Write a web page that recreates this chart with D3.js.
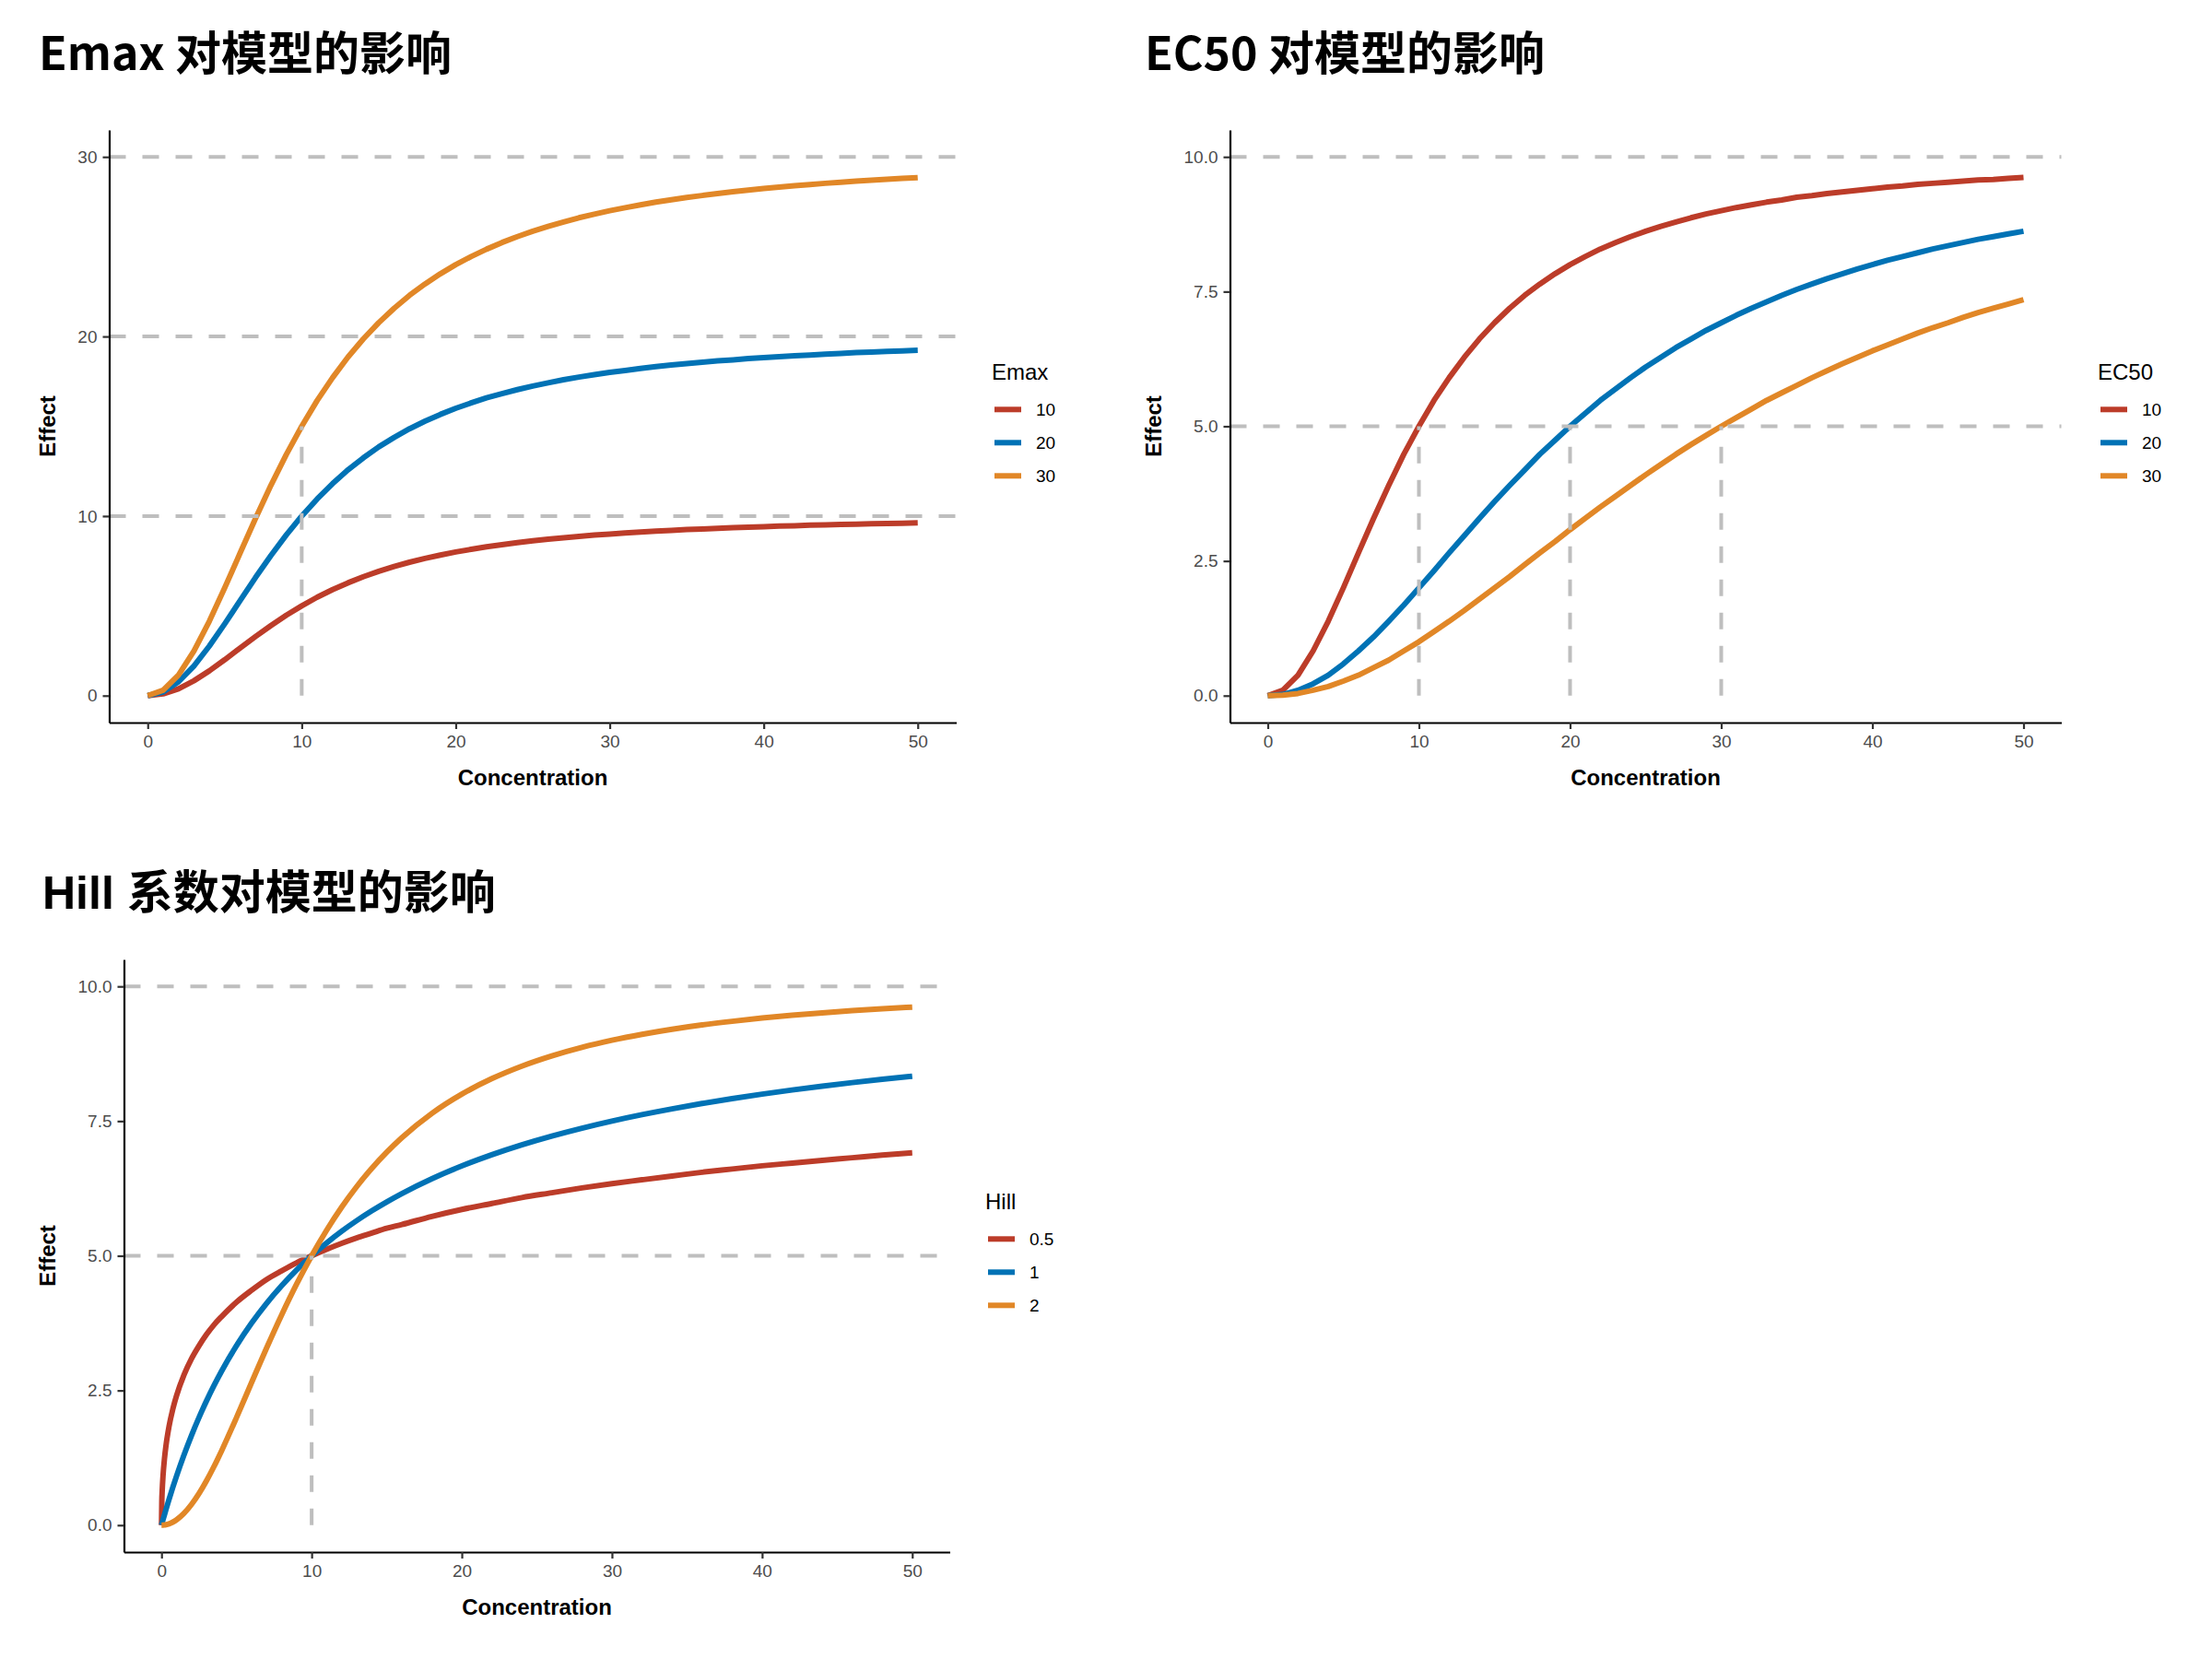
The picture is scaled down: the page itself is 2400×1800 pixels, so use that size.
<!DOCTYPE html>
<html>
<head>
<meta charset="utf-8">
<script src="https://cdn.jsdelivr.net/npm/d3@7"></script>
<style>
  html, body { margin: 0; padding: 0; background: #fff; }
  svg { display: block; }
</style>
</head>
<body>
<svg id="chart" width="2400" height="1800"></svg>
<script>
// ---------------- DATA ----------------
const conc = [0,1,2,3,4,5,6,7,8,9,10,11,12,13,14,15,16,17,18,19,20,21,22,23,24,25,26,27,28,29,30,31,32,33,34,35,36,37,38,39,40,41,42,43,44,45,46,47,48,49,50];

// Panel 1: Emax = 10 / 20 / 30
const emaxLevels = ["10", "20", "30"];
const emax10 = [0,0.10,0.38,0.83,1.38,2.00,2.65,3.29,3.90,4.48,5.00,5.48,5.90,6.28,6.62,6.92,7.19,7.43,7.64,7.83,8.00,8.15,8.29,8.41,8.52,8.62,8.71,8.79,8.87,8.94,9.00,9.06,9.11,9.16,9.20,9.25,9.28,9.32,9.35,9.38,9.41,9.44,9.46,9.49,9.51,9.53,9.55,9.57,9.58,9.60,9.62];
const emax20 = [0,0.20,0.77,1.65,2.76,4.00,5.29,6.58,7.80,8.95,10.00,10.95,11.80,12.57,13.24,13.85,14.38,14.86,15.28,15.66,16.00,16.30,16.58,16.82,17.04,17.24,17.42,17.59,17.74,17.87,18.00,18.11,18.22,18.32,18.41,18.49,18.57,18.64,18.70,18.77,18.82,18.88,18.93,18.97,19.02,19.06,19.10,19.13,19.17,19.20,19.23];
const emax30 = [0,0.30,1.15,2.48,4.14,6.00,7.94,9.87,11.71,13.43,15.00,16.43,17.70,18.85,19.86,20.77,21.57,22.29,22.92,23.49,24.00,24.45,24.86,25.23,25.56,25.86,26.13,26.38,26.61,26.81,27.00,27.17,27.33,27.48,27.61,27.74,27.85,27.96,28.06,28.15,28.24,28.32,28.39,28.46,28.53,28.59,28.65,28.70,28.75,28.80,28.85];

// Panel 2: EC50 = 10 / 20 / 30
const ec50Levels = ["10", "20", "30"];
const ec50_10 = [0,0.10,0.38,0.83,1.38,2.00,2.65,3.29,3.90,4.48,5.00,5.48,5.90,6.28,6.62,6.92,7.19,7.43,7.64,7.83,8.00,8.15,8.29,8.41,8.52,8.62,8.71,8.79,8.87,8.94,9.00,9.06,9.11,9.16,9.20,9.25,9.28,9.32,9.35,9.38,9.41,9.44,9.46,9.49,9.51,9.53,9.55,9.57,9.58,9.60,9.62];
const ec50_20 = [0,0.02,0.10,0.22,0.38,0.59,0.83,1.09,1.38,1.68,2.00,2.32,2.65,2.97,3.29,3.60,3.90,4.19,4.48,4.74,5.00,5.24,5.48,5.69,5.90,6.10,6.28,6.46,6.62,6.78,6.92,7.06,7.19,7.31,7.43,7.54,7.64,7.74,7.83,7.92,8.00,8.08,8.15,8.22,8.29,8.35,8.41,8.47,8.52,8.57,8.62];
const ec50_30 = [0,0.01,0.04,0.10,0.17,0.27,0.38,0.52,0.66,0.83,1.00,1.19,1.38,1.58,1.79,2.00,2.21,2.43,2.65,2.86,3.08,3.29,3.50,3.70,3.90,4.10,4.29,4.48,4.66,4.83,5.00,5.16,5.32,5.48,5.62,5.76,5.90,6.03,6.16,6.28,6.40,6.51,6.62,6.73,6.83,6.92,7.02,7.11,7.19,7.27,7.35];

// Panel 3: Hill = 0.5 / 1 / 2
const hillLevels = ["0.5", "1", "2"];
const hillConc = [0,0.02,0.05,0.1,0.2,0.3,0.5,0.75,1,1.5,2,2.5,3,3.5,4,5,6,7,8,9,10,11,12,13,14,15,16,18,20,22,24,26,28,30,32,34,36,38,40,42,44,46,48,50];
const hill05 = [0,0.43,0.66,0.91,1.24,1.48,1.83,2.15,2.40,2.79,3.09,3.33,3.54,3.72,3.87,4.14,4.36,4.56,4.72,4.87,5.00,5.12,5.23,5.33,5.42,5.51,5.58,5.73,5.86,5.97,6.08,6.17,6.26,6.34,6.41,6.48,6.55,6.61,6.67,6.72,6.77,6.82,6.87,6.91];
const hill1 = [0,0.020,0.050,0.099,0.196,0.291,0.476,0.698,0.909,1.304,1.667,2.000,2.308,2.593,2.857,3.333,3.750,4.118,4.444,4.737,5.000,5.238,5.455,5.652,5.833,6.000,6.154,6.429,6.667,6.875,7.059,7.222,7.368,7.500,7.619,7.727,7.826,7.917,8.000,8.077,8.148,8.214,8.276,8.333];
const hill2 = [0,0.000,0.000,0.001,0.004,0.009,0.025,0.056,0.099,0.220,0.385,0.588,0.826,1.091,1.379,2.000,2.647,3.289,3.902,4.475,5.000,5.475,5.902,6.283,6.622,6.923,7.191,7.642,8.000,8.288,8.521,8.711,8.869,9.000,9.110,9.204,9.284,9.352,9.412,9.464,9.509,9.549,9.584,9.615];

// Tick values / reference lines
const xTicks = [0, 10, 20, 30, 40, 50];
const yTicksEmax = [0, 10, 20, 30];
const yTicksUnit = [0, 2.5, 5, 7.5, 10];
const hlinesEmax = [10, 20, 30];
const hlinesUnit = [5, 10];
const vsegEmax = [[10, 15]];
const vsegEC50 = [[10, 5], [20, 5], [30, 5]];
const vsegHill = [[10, 5]];

const palette = ["#BC3C29", "#0072B5", "#E18727"];

// ---------------- DRAW ----------------
const svg = d3.select("#chart");
svg.append("rect").attr("width", 2400).attr("height", 1800).attr("fill", "#fff");

function zipSeries(xs, ys) { return xs.map((x, i) => [x, ys[i]]); }

function drawPanel(cfg) {
  const g = svg.append("g").attr("transform", `translate(${cfg.ox},${cfg.oy})`);
  const left = cfg.left, right = cfg.right, top = 141, bottom = 784;

  const x = d3.scaleLinear().domain([-2.5, 52.5]).range([left, right]);
  const y = d3.scaleLinear().domain(cfg.yDomain).range([bottom, top]);

  // Title
  g.append("text")
    .attr("x", cfg.titleX).attr("y", cfg.titleY)
    .attr("font-family", cfg.titleFont)
    .attr("font-weight", 700)
    .attr("font-size", 50)
    .attr("fill", "#000")
    .text(cfg.title);

  // Curves
  const line = d3.line().x(d => x(d[0])).y(d => y(d[1])).curve(cfg.curve);
  cfg.series.forEach((s, i) => {
    g.append("path")
      .datum(zipSeries(cfg.xs, s))
      .attr("d", line)
      .attr("fill", "none")
      .attr("stroke", palette[i])
      .attr("stroke-width", 6)
      .attr("stroke-linejoin", "round")
      .attr("stroke-linecap", "butt");
  });

  // Reference lines (drawn on top of curves)
  cfg.hlines.forEach(v => {
    g.append("line")
      .attr("x1", left).attr("x2", right)
      .attr("y1", y(v)).attr("y2", y(v))
      .attr("stroke", "#BEBEBE").attr("stroke-width", 4)
      .attr("stroke-dasharray", "18,18");
  });
  cfg.vsegs.forEach(([xv, yv]) => {
    g.append("line")
      .attr("x1", x(xv)).attr("x2", x(xv))
      .attr("y1", y(0)).attr("y2", y(yv))
      .attr("stroke", "#BEBEBE").attr("stroke-width", 4)
      .attr("stroke-dasharray", "18,18");
  });

  // Axes
  const xAxis = d3.axisBottom(x).tickValues(xTicks).tickFormat(d3.format("d"))
    .tickSize(7).tickSizeOuter(0).tickPadding(6.5);
  const yAxis = d3.axisLeft(y).tickValues(cfg.yTicks).tickFormat(d3.format(cfg.yFormat))
    .tickSize(7).tickSizeOuter(0).tickPadding(6);

  const gx = g.append("g").attr("transform", `translate(0,${bottom})`).call(xAxis);
  const gy = g.append("g").attr("transform", `translate(${left},0)`).call(yAxis);
  [gx, gy].forEach(ax => {
    ax.select(".domain").attr("stroke", "#000").attr("stroke-width", 2.2);
    ax.selectAll(".tick line").attr("stroke", "#333").attr("stroke-width", 2.2);
    ax.selectAll(".tick text")
      .attr("font-family", "Liberation Sans, Arial, sans-serif")
      .attr("font-size", 19)
      .attr("fill", "#4D4D4D");
  });

  // Axis titles
  g.append("text")
    .attr("x", (left + right) / 2).attr("y", 852)
    .attr("text-anchor", "middle")
    .attr("font-family", "Liberation Sans, Arial, sans-serif")
    .attr("font-weight", 700).attr("font-size", 24)
    .attr("fill", "#000")
    .text("Concentration");
  g.append("text")
    .attr("transform", `translate(60,${(top + bottom) / 2}) rotate(-90)`)
    .attr("text-anchor", "middle")
    .attr("font-family", "Liberation Sans, Arial, sans-serif")
    .attr("font-weight", 700).attr("font-size", 24)
    .attr("fill", "#000")
    .text("Effect");

  // Legend
  const lg = g.append("g");
  lg.append("text")
    .attr("x", cfg.legendX).attr("y", 412)
    .attr("font-family", "Liberation Sans, Arial, sans-serif")
    .attr("font-size", 24).attr("fill", "#000")
    .text(cfg.legendTitle);
  const keyY = [444.3, 480.3, 516.3];
  cfg.levels.forEach((lab, i) => {
    lg.append("line")
      .attr("x1", cfg.legendX + 3).attr("x2", cfg.legendX + 32)
      .attr("y1", keyY[i]).attr("y2", keyY[i])
      .attr("stroke", palette[i]).attr("stroke-width", 6);
    lg.append("text")
      .attr("x", cfg.legendX + 48).attr("y", keyY[i])
      .attr("dy", "0.35em")
      .attr("font-family", "Liberation Sans, Arial, sans-serif")
      .attr("font-size", 19).attr("fill", "#000")
      .text(lab);
  });
}

drawPanel({
  ox: 0, oy: 0, left: 118.5, right: 1037.5,
  yDomain: [-1.5, 31.5], yTicks: yTicksEmax, yFormat: "d",
  title: "Emax 对模型的影响", titleX: 42, titleY: 76,
  titleFont: "'Noto Sans CJK SC', sans-serif",
  xs: conc, series: [emax10, emax20, emax30], curve: d3.curveLinear,
  hlines: hlinesEmax, vsegs: vsegEmax,
  legendTitle: "Emax", levels: emaxLevels, legendX: 1076
});

drawPanel({
  ox: 1200, oy: 0, left: 134.5, right: 1036.5,
  yDomain: [-0.5, 10.5], yTicks: yTicksUnit, yFormat: ".1f",
  title: "EC50 对模型的影响", titleX: 42, titleY: 76,
  titleFont: "'Noto Sans CJK SC', sans-serif",
  xs: conc, series: [ec50_10, ec50_20, ec50_30], curve: d3.curveLinear,
  hlines: hlinesUnit, vsegs: vsegEC50,
  legendTitle: "EC50", levels: ec50Levels, legendX: 1076
});

drawPanel({
  ox: 0, oy: 900, left: 134.5, right: 1030.5,
  yDomain: [-0.5, 10.5], yTicks: yTicksUnit, yFormat: ".1f",
  title: "Hill 系数对模型的影响", titleX: 46, titleY: 86,
  titleFont: "'Liberation Sans', 'Noto Sans CJK SC', sans-serif",
  xs: hillConc, series: [hill05, hill1, hill2], curve: d3.curveMonotoneX,
  hlines: hlinesUnit, vsegs: vsegHill,
  legendTitle: "Hill", levels: hillLevels, legendX: 1069
});
</script>
</body>
</html>
